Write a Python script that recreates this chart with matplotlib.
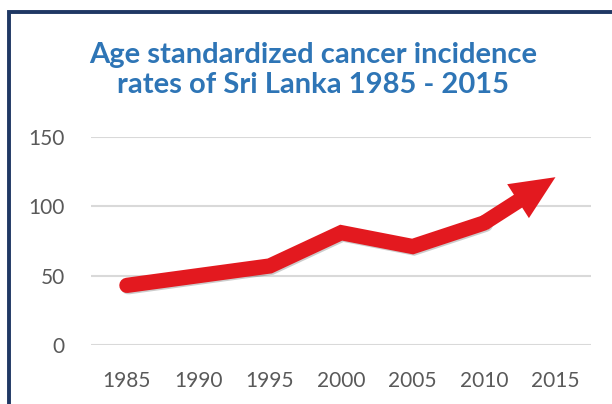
import matplotlib.pyplot as plt
import matplotlib.patheffects as pe
from matplotlib.patches import Rectangle

years = ["1985", "1990", "1995", "2000", "2005", "2010", "2015"]
rates = [43, 50, 57, 81, 71, 88, 121]
yticks = [0, 50, 100, 150]

red = "#e3191f"
grey = "#595959"

fig = plt.figure(figsize=(6.12, 4.04), dpi=100)
ax = fig.add_axes([0.149, 0.146, 0.817, 0.515])

# frame around the figure (only left/top visible)
fig.patches.append(Rectangle((0.014, -0.05), 1.2, 1.02, transform=fig.transFigure,
                             fill=False, edgecolor="#1f3864", lw=2.8))

x = list(range(len(years)))
shadow = [pe.SimpleLineShadow(offset=(1, -1), alpha=0.2), pe.Normal()]

# line up to the last point, then an arrow for the last segment
ax.plot(x[:-1], rates[:-1], color=red, lw=11, solid_capstyle="round",
        solid_joinstyle="miter", path_effects=shadow, zorder=3)
ax.annotate("", xy=(x[-1], rates[-1]), xytext=(x[-2], rates[-2]),
            arrowprops=dict(arrowstyle="simple,head_length=1.6,head_width=1.45,tail_width=0.55",
                            color=red, lw=0, mutation_scale=20, shrinkA=0, shrinkB=0),
            zorder=3)

ax.set_xlim(-0.5, len(years) - 0.5)
ax.set_ylim(0, 150)
ax.set_xticks(x)
ax.set_xticklabels(years)
ax.set_yticks(yticks)
ax.tick_params(length=0, labelsize=15, labelcolor=grey, pad=19)
ax.grid(axis="y", color="#d9d9d9", lw=1.5)
ax.set_axisbelow(True)
for s in ax.spines.values():
    s.set_visible(False)
for lbl in ax.get_xticklabels() + ax.get_yticklabels():
    lbl.set_family("Lato")

fig.text(0.512, 0.827, "Age standardized cancer incidence\nrates of Sri Lanka 1985 - 2015",
         ha="center", va="center", fontsize=21, fontweight="bold", color="#2e75b6",
         family="Lato", linespacing=1.2)

fig.savefig("out.png", dpi=100)
